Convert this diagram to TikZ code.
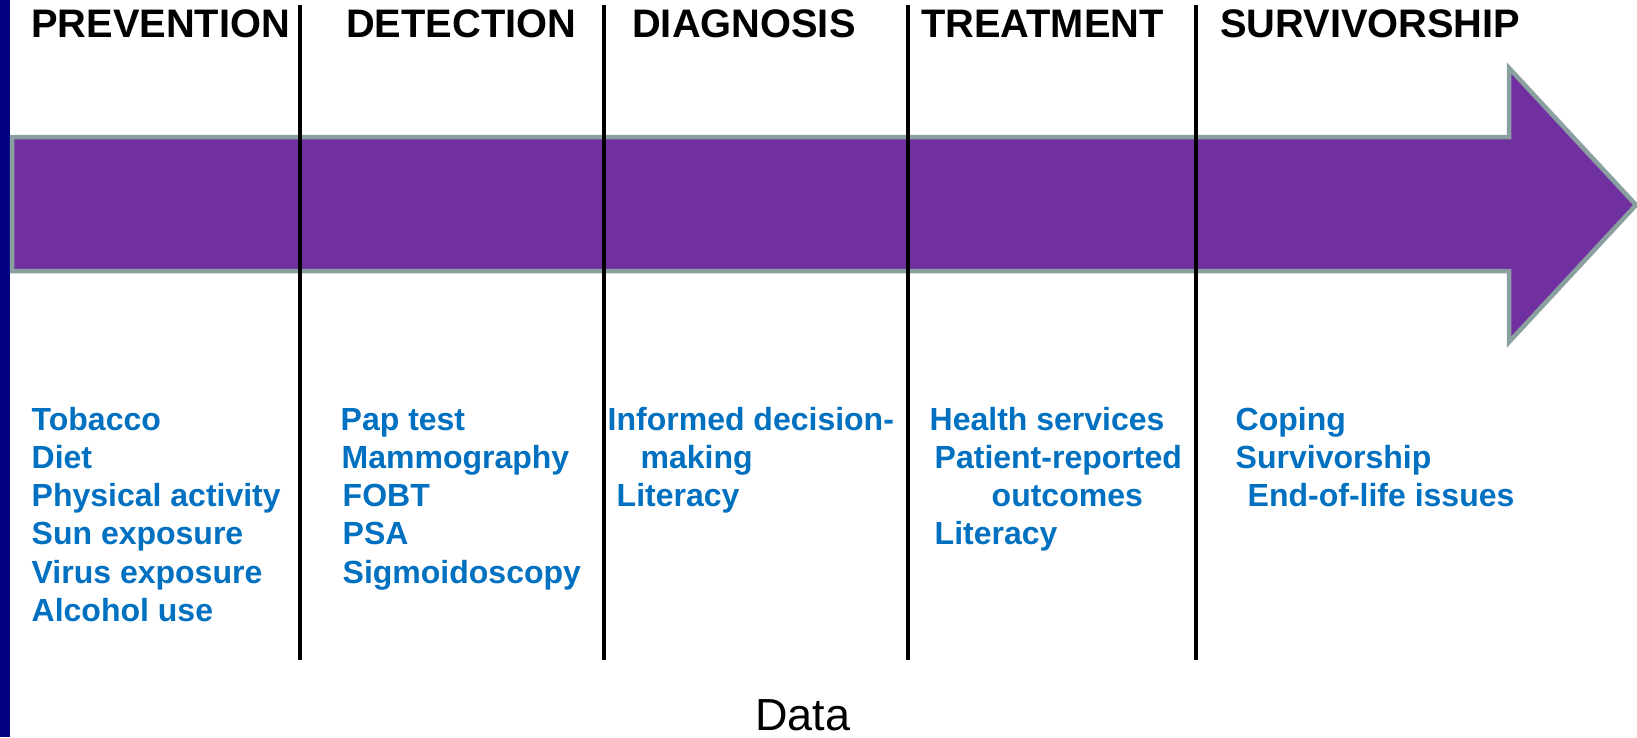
\documentclass[tikz,border=0pt]{standalone}
\usepackage{fontspec}
\setmainfont{Liberation Sans}
\definecolor{arrowfill}{RGB}{112,48,160}
\definecolor{arrowedge}{RGB}{138,160,160}
\definecolor{itemblue}{RGB}{0,112,192}
\definecolor{strip}{RGB}{0,0,128}
\tikzset{
  head/.style={anchor=base west, inner sep=0pt, font=\bfseries\fontsize{39.8}{47}\selectfont, text=black},
  item/.style={anchor=base west, inner sep=0pt, font=\bfseries\fontsize{32}{38}\selectfont, text=itemblue},
  divider/.style={line width=4pt, black},
}
\begin{document}
\begin{tikzpicture}[x=1pt,y=-1pt]
\useasboundingbox (0,0) rectangle (1637,737);
\fill[white] (0,0) rectangle (1637,737);
\fill[strip] (0,0) rectangle (10,737);
% big arrow
\draw[fill=arrowfill, draw=arrowedge, line width=4.5pt, line join=miter]
  (12,137) -- (1509,137) -- (1509,68) -- (1636,205) -- (1509,342) -- (1509,271) -- (12,271) -- cycle;
% dividers
\foreach \x/\n in {300/a,604/b,908/c,1196/d}{
  \coordinate (top\n) at (\x,5);
  \coordinate (bot\n) at (\x,660);
  \draw[divider] (top\n) -- (bot\n);
}
% headings
\node[head] (hprev) at (31,37) {PREVENTION};
\node[head] (hdet) at (346,37) {DETECTION};
\node[head] (hdia) at (632,37) {DIAGNOSIS};
\node[head] (htre) at (921,37) {TREATMENT};
\node[head] (hsur) at (1220,37) {SURVIVORSHIP};
% prevention
\node[item] (p1) at (31.5,430) {Tobacco};
\node[item] (p2) at (31.5,468.3) {Diet};
\node[item] (p3) at (31.5,506.6) {Physical activity};
\node[item] (p4) at (31.5,544.9) {Sun exposure};
\node[item] (p5) at (31.5,583.2) {Virus exposure};
\node[item] (p6) at (31.5,621.5) {Alcohol use};
% detection
\node[item] (d1) at (340.5,430) {Pap test};
\node[item] (d2) at (341.5,468.3) {Mammography};
\node[item] (d3) at (342.5,506.6) {FOBT};
\node[item] (d4) at (342.5,544.9) {PSA};
\node[item] (d5) at (342.5,583.2) {Sigmoidoscopy};
% diagnosis
\node[item] (g1) at (607.5,430) {Informed decision-};
\node[item] (g2) at (640.5,468.3) {making};
\node[item] (g3) at (616.5,506.6) {Literacy};
% treatment
\node[item] (t1) at (929.5,430) {Health services};
\node[item] (t2) at (934.5,468.3) {Patient-reported};
\node[item] (t3) at (991.5,506.6) {outcomes};
\node[item] (t4) at (934.5,544.9) {Literacy};
% survivorship
\node[item] (s1) at (1235.5,430) {Coping};
\node[item] (s2) at (1235.5,468.3) {Survivorship};
\node[item] (s3) at (1247.5,506.6) {End-of-life issues};
% data
\node[anchor=base, inner sep=0pt, font=\fontsize{45}{54}\selectfont] (data) at (803,730) {Data};
\end{tikzpicture}
\end{document}
